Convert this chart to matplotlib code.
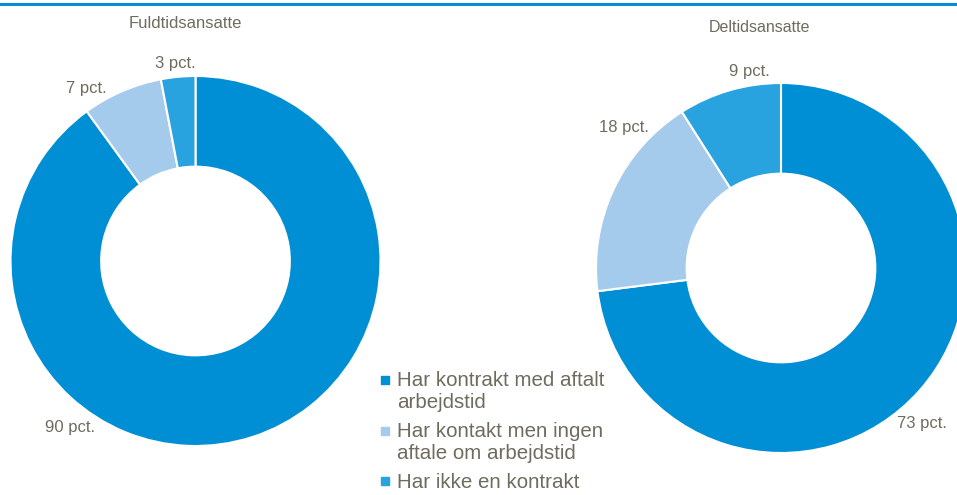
import numpy as np
import matplotlib
matplotlib.use('Agg')
import matplotlib.pyplot as plt
from matplotlib.lines import Line2D
from matplotlib.legend_handler import HandlerLine2D

plt.rcParams['font.family'] = ['Liberation Sans', 'DejaVu Sans']

# data
categories = ['Har kontrakt med aftalt\narbejdstid',
              'Har kontakt men ingen\naftale om arbejdstid',
              'Har ikke en kontrakt']
fuldtid = [90, 7, 3]
deltid = [73, 18, 9]
titles = ['Fuldtidsansatte', 'Deltidsansatte']
colors = ['#008FD5', '#A5CBEC', '#29A3DF']
text_col = '#6F6C5E'

fig = plt.figure(figsize=(9.57, 4.95), dpi=100)
W, H = 957, 495

def donut(cx, cy, r, values, label_pos):
    ax = fig.add_axes([(cx - r) / W, (H - cy - r) / H, 2 * r / W, 2 * r / H])
    ax.pie(values, colors=colors, startangle=90, counterclock=False,
           radius=1, wedgeprops=dict(width=0.49, edgecolor='white', linewidth=1.5))
    ax.set_xlim(-1, 1)
    ax.set_ylim(-1, 1)
    ax.set_aspect('equal')
    ax.axis('off')
    for v, (x, y) in zip(values, label_pos):
        ax.text(x, y, f'{v} pct.', ha='center', va='center', fontsize=12,
                color=text_col, clip_on=False)
    return ax

donut(195.5, 261, 185, fuldtid, [(-0.68, -0.90), (-0.59, 0.935), (-0.11, 1.065)])
donut(781, 268, 185, deltid, [(0.76, -0.84), (-0.85, 0.76), (-0.17, 1.06)])

fig.text(185 / W, 1 - 23 / H, titles[0], ha='center', va='center', fontsize=12, color=text_col)
fig.text(760 / W, 1 - 28 / H, titles[1], ha='center', va='center', fontsize=11.5, color=text_col)

# top rule
fig.add_artist(Line2D([0, 1], [1 - 4 / H, 1 - 4 / H], color='#008FD5', linewidth=2.2,
                      transform=fig.transFigure))


class TopHandler(HandlerLine2D):
    # put the marker on the first line of a two-line label
    def __init__(self, dy, **kw):
        super().__init__(**kw)
        self.dy = dy

    def create_artists(self, legend, orig_handle, xdescent, ydescent, width, height,
                       fontsize, trans):
        arts = super().create_artists(legend, orig_handle, xdescent, ydescent, width,
                                      height, fontsize, trans)
        for a in arts:
            a.set_ydata(np.asarray(a.get_ydata(), dtype=float) + self.dy)
        return arts


handles = [Line2D([], [], marker='s', linestyle='', markersize=6, color=c) for c in colors]
hmap = {h: TopHandler(8.3 if '\n' in lab else 0) for h, lab in zip(handles, categories)}
leg = fig.legend(handles, categories, loc='upper left', bbox_to_anchor=(380 / W, 1 - 371 / H),
                 frameon=False, fontsize=14.8, handlelength=0.5, handletextpad=0.35,
                 labelspacing=0.48, borderaxespad=0, borderpad=0, handler_map=hmap)
for t in leg.get_texts():
    t.set_color(text_col)
    t.set_linespacing(1.2)

plt.savefig('out.png', dpi=100)
